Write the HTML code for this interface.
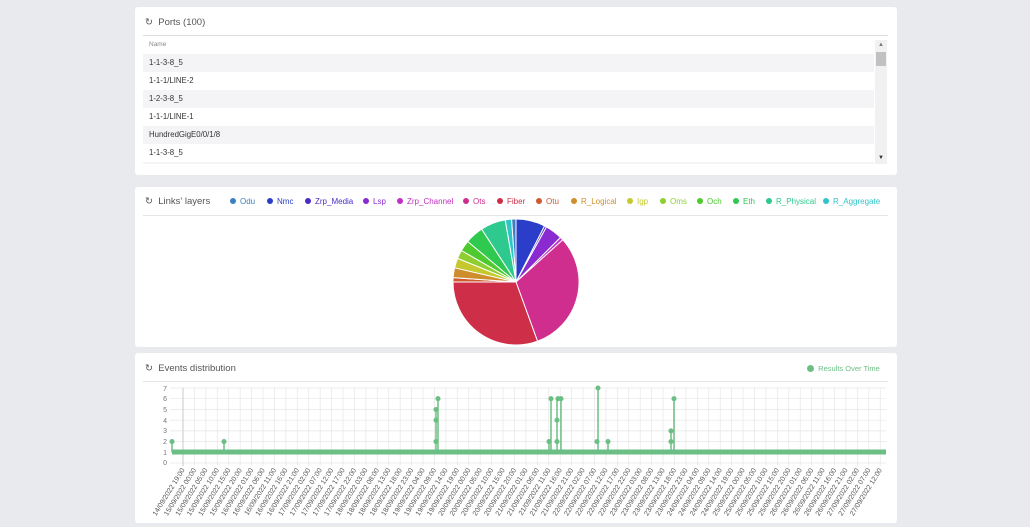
<!DOCTYPE html>
<html><head><meta charset="utf-8"><style>
body{margin:0;width:1030px;height:527px;background:#e9eaee;font-family:"Liberation Sans",sans-serif;position:relative;overflow:hidden}
.card{position:absolute;left:135px;width:762px;background:#fff;border-radius:3px}
.t{position:absolute;left:10px;font-size:9.5px;color:#555}
.row{position:absolute;left:8px;width:731px;height:18px;font-size:7.8px;color:#333;line-height:18px;padding-left:6px;box-sizing:border-box}
</style></head><body>
<div class="card" style="top:7px;height:168px">
 <div class="t" style="top:10px">&#8635;&nbsp; Ports (100)</div>
 <div style="position:absolute;left:8px;top:28px;width:745px;border-top:1px solid #ddd"></div>
 <div class="row" style="top:29px;color:#888;font-size:6.5px">Name</div>
 <div class="row" style="top:47px;background:#f4f4f6">1-1-3-8_5</div>
 <div class="row" style="top:65px">1-1-1/LINE-2</div>
 <div class="row" style="top:83px;background:#f4f4f6">1-2-3-8_5</div>
 <div class="row" style="top:101px">1-1-1/LINE-1</div>
 <div class="row" style="top:119px;background:#f4f4f6">HundredGigE0/0/1/8</div>
 <div class="row" style="top:137px">1-1-3-8_5</div>
 <div class="row" style="top:155px;height:2px;background:#f4f4f6"></div>
 <div style="position:absolute;left:740px;top:33px;width:12px;height:124px;background:#f1f1f1"></div>
 <div style="position:absolute;left:741px;top:45px;width:10px;height:14px;background:#c1c1c1"></div>
 <div style="position:absolute;left:743px;top:35px;font-size:6px;color:#777">&#9650;</div>
 <div style="position:absolute;left:743px;top:148px;font-size:6px;color:#333">&#9660;</div>
</div>
<div class="card" style="top:187px;height:160px">
 <div class="t" style="top:9px">&#8635;&nbsp; Links' layers</div>
 <div style="position:absolute;left:8px;top:28px;width:745px;border-top:1px solid #e5e5e5"></div>
 <svg width="762" height="160" style="position:absolute;left:0;top:0" font-size="8" font-family="Liberation Sans,sans-serif">
  <g>
  <circle cx="98" cy="14" r="3" fill="#3a7fc1"/><text x="105" y="17" fill="#3a7fc1">Odu</text>
  <circle cx="135" cy="14" r="3" fill="#2b3ec9"/><text x="142" y="17" fill="#2b3ec9">Nmc</text>
  <circle cx="173" cy="14" r="3" fill="#4b2bc8"/><text x="180" y="17" fill="#4b2bc8">Zrp_Media</text>
  <circle cx="231" cy="14" r="3" fill="#8a2bd2"/><text x="238" y="17" fill="#8a2bd2">Lsp</text>
  <circle cx="265" cy="14" r="3" fill="#c22fc4"/><text x="272" y="17" fill="#c22fc4">Zrp_Channel</text>
  <circle cx="331" cy="14" r="3" fill="#cf2e8e"/><text x="338" y="17" fill="#cf2e8e">Ots</text>
  <circle cx="365" cy="14" r="3" fill="#cf2e48"/><text x="372" y="17" fill="#cf2e48">Fiber</text>
  <circle cx="404" cy="14" r="3" fill="#cf5a2e"/><text x="411" y="17" fill="#cf5a2e">Otu</text>
  <circle cx="439" cy="14" r="3" fill="#cf8e2e"/><text x="446" y="17" fill="#cf8e2e">R_Logical</text>
  <circle cx="495" cy="14" r="3" fill="#c5c92e"/><text x="502" y="17" fill="#c5c92e">Igp</text>
  <circle cx="528" cy="14" r="3" fill="#8ccf2e"/><text x="535" y="17" fill="#8ccf2e">Oms</text>
  <circle cx="565" cy="14" r="3" fill="#4ec92e"/><text x="572" y="17" fill="#4ec92e">Och</text>
  <circle cx="601" cy="14" r="3" fill="#2ec94e"/><text x="608" y="17" fill="#2ec94e">Eth</text>
  <circle cx="634" cy="14" r="3" fill="#2ec98e"/><text x="641" y="17" fill="#2ec98e">R_Physical</text>
  <circle cx="691" cy="14" r="3" fill="#2ec5c9"/><text x="698" y="17" fill="#2ec5c9">R_Aggregate</text>
  </g>
 </svg>
</div>
<div class="card" style="top:353px;height:170px">
 <div class="t" style="top:10px">&#8635;&nbsp; Events distribution</div>
 <div style="position:absolute;left:8px;top:28px;width:745px;border-top:1px solid #e5e5e5"></div>
 <div style="position:absolute;left:672px;top:11px;font-size:7.5px;color:#6cbf84"><span style="display:inline-block;width:7px;height:7px;border-radius:50%;background:#6cbf84;vertical-align:-1px"></span>&nbsp; Results Over Time</div>
</div>
<svg width="1030" height="527" style="position:absolute;left:0;top:0">
 <g stroke="#fff" stroke-width="1">
  <path d="M516 282 L505.1 219.9 A63 63 0 0 1 511.6 219.1Z" fill="#2ec5c9"/>
  <path d="M516 282 L511.6 219.1 A63 63 0 0 1 516 219Z" fill="#3a7fc1"/>
  <path d="M516 282 L516 219 A63 63 0 0 1 544.6 225.9Z" fill="#2b3ec9"/>
  <path d="M516 282 L544.6 225.9 A63 63 0 0 1 546.5 226.9Z" fill="#4b2bc8"/>
  <path d="M516 282 L546.5 226.9 A63 63 0 0 1 560.5 237.5Z" fill="#8a2bd2"/>
  <path d="M516 282 L560.5 237.5 A63 63 0 0 1 562.8 239.8Z" fill="#c22fc4"/>
  <path d="M516 282 L562.8 239.8 A63 63 0 0 1 537.5 341.2Z" fill="#cf2e8e"/>
  <path d="M516 282 L537.5 341.2 A63 63 0 0 1 453 282Z" fill="#cf2e48"/>
  <path d="M516 282 L453 282 A63 63 0 0 1 453.1 277.6Z" fill="#cf5a2e"/>
  <path d="M516 282 L453.1 277.6 A63 63 0 0 1 454.6 267.8Z" fill="#cf8e2e"/>
  <path d="M516 282 L454.6 267.8 A63 63 0 0 1 457.6 258.4Z" fill="#c5c92e"/>
  <path d="M516 282 L457.6 258.4 A63 63 0 0 1 461.4 250.5Z" fill="#8ccf2e"/>
  <path d="M516 282 L461.4 250.5 A63 63 0 0 1 467.7 241.5Z" fill="#4ec92e"/>
  <path d="M516 282 L467.7 241.5 A63 63 0 0 1 481.7 229.1Z" fill="#2ec94e"/>
  <path d="M516 282 L481.7 229.1 A63 63 0 0 1 505.1 219.9Z" fill="#2ec98e"/>
 </g>
 <g stroke="#e6e6e6" stroke-width="0.7">
  <line x1="170" y1="388" x2="886" y2="388"/><line x1="170" y1="398.7" x2="886" y2="398.7"/>
  <line x1="170" y1="409.5" x2="886" y2="409.5"/><line x1="170" y1="420.2" x2="886" y2="420.2"/>
  <line x1="170" y1="430.9" x2="886" y2="430.9"/><line x1="170" y1="441.6" x2="886" y2="441.6"/>
  <line x1="170" y1="452.3" x2="886" y2="452.3"/><line x1="170" y1="463" x2="886" y2="463"/>
 </g>
 <g id="vg" stroke="#e6e6e6" stroke-width="0.7"></g>
 <line x1="183" y1="388" x2="183" y2="466" stroke="#bbb" stroke-width="0.7"/>
 <g font-size="7" fill="#777" text-anchor="end" font-family="Liberation Sans,sans-serif">
  <text x="167" y="391">7</text><text x="167" y="401">6</text><text x="167" y="412">5</text><text x="167" y="423">4</text><text x="167" y="433">3</text><text x="167" y="444">2</text><text x="167" y="455">1</text><text x="167" y="465">0</text>
 </g>
 <g stroke="#6cbf84" stroke-width="1.5" fill="#6cbf84">
  <line x1="172" y1="452" x2="886" y2="452" stroke-width="5"/>
  <line x1="172" y1="452" x2="172" y2="441.6"/><circle cx="172" cy="441.6" r="1.8"/>
  <line x1="224" y1="452" x2="224" y2="441.6"/><circle cx="224" cy="441.6" r="1.8"/>
  <line x1="436" y1="452" x2="436" y2="409.5"/><circle cx="436" cy="441.6" r="1.8"/><circle cx="436" cy="420.2" r="1.8"/><circle cx="436" cy="409.5" r="1.8"/>
  <line x1="438" y1="452" x2="438" y2="398.7"/><circle cx="438" cy="398.7" r="1.8"/>
  <line x1="549" y1="452" x2="549" y2="441.6"/><circle cx="549" cy="441.6" r="1.8"/>
  <line x1="551" y1="452" x2="551" y2="398.7"/><circle cx="551" cy="398.7" r="1.8"/>
  <line x1="557" y1="452" x2="557" y2="398.7"/><circle cx="557" cy="420.2" r="1.8"/><circle cx="557" cy="441.6" r="1.8"/><circle cx="558" cy="398.7" r="1.8"/>
  <line x1="561" y1="452" x2="561" y2="398.7"/><circle cx="561" cy="398.7" r="1.8"/>
  <line x1="598" y1="452" x2="598" y2="388"/><circle cx="598" cy="388" r="1.8"/><circle cx="597" cy="441.6" r="1.8"/>
  <line x1="608" y1="452" x2="608" y2="441.6"/><circle cx="608" cy="441.6" r="1.8"/>
  <line x1="671" y1="452" x2="671" y2="430.9"/><circle cx="671" cy="430.9" r="1.8"/><circle cx="671" cy="441.6" r="1.8"/>
  <line x1="674" y1="452" x2="674" y2="398.7"/><circle cx="674" cy="398.7" r="1.8"/>
 </g>
 <g id="xl" font-size="7" fill="#555" text-anchor="end" font-family="Liberation Sans,sans-serif"></g>
</svg>
<script>
var labs=["14/09/2022 19:00","15/09/2022 00:00","15/09/2022 05:00","15/09/2022 10:00","15/09/2022 15:00","15/09/2022 20:00","16/09/2022 01:00","16/09/2022 06:00","16/09/2022 11:00","16/09/2022 16:00","16/09/2022 21:00","17/09/2022 02:00","17/09/2022 07:00","17/09/2022 12:00","17/09/2022 17:00","17/09/2022 22:00","18/09/2022 03:00","18/09/2022 08:00","18/09/2022 13:00","18/09/2022 18:00","18/09/2022 23:00","19/09/2022 04:00","19/09/2022 09:00","19/09/2022 14:00","19/09/2022 19:00","20/09/2022 00:00","20/09/2022 05:00","20/09/2022 10:00","20/09/2022 15:00","20/09/2022 20:00","21/09/2022 01:00","21/09/2022 06:00","21/09/2022 11:00","21/09/2022 16:00","21/09/2022 21:00","22/09/2022 02:00","22/09/2022 07:00","22/09/2022 12:00","22/09/2022 17:00","22/09/2022 22:00","23/09/2022 03:00","23/09/2022 08:00","23/09/2022 13:00","23/09/2022 18:00","23/09/2022 23:00","24/09/2022 04:00","24/09/2022 09:00","24/09/2022 14:00","24/09/2022 19:00","25/09/2022 00:00","25/09/2022 05:00","25/09/2022 10:00","25/09/2022 15:00","25/09/2022 20:00","26/09/2022 01:00","26/09/2022 06:00","26/09/2022 11:00","26/09/2022 16:00","26/09/2022 21:00","27/09/2022 02:00","27/09/2022 07:00","27/09/2022 12:00"];
var ns="http://www.w3.org/2000/svg",g=document.getElementById('xl'),v=document.getElementById('vg');
labs.forEach(function(s,i){var x=183+i*11.43;
var l=document.createElementNS(ns,'line');l.setAttribute('x1',x);l.setAttribute('x2',x);l.setAttribute('y1',388);l.setAttribute('y2',466);v.appendChild(l);
var t=document.createElementNS(ns,'text');t.setAttribute('x',x+2);t.setAttribute('y',470);t.setAttribute('transform','rotate(-58 '+(x+2)+' 470)');t.textContent=s;g.appendChild(t);});
</script>
</body></html>
